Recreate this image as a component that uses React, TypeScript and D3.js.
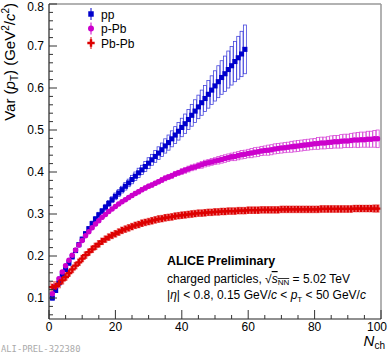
import { scaleLinear, range, symbol, symbolSquare, symbolCircle, symbolCross } from 'd3';

// Var(pT) vs Nch, one value per integer Nch
const ppVar = [
  0.1, 0.118, 0.136, 0.153, 0.168, 0.183, 0.198, 0.213, 0.227, 0.24,
  0.253, 0.265, 0.277, 0.288, 0.298, 0.307, 0.316, 0.325, 0.334, 0.342,
  0.35, 0.358, 0.366, 0.374, 0.382, 0.39, 0.398, 0.405, 0.413, 0.421,
  0.429, 0.437, 0.445, 0.453, 0.462, 0.47, 0.479, 0.488, 0.497, 0.506,
  0.515, 0.525, 0.535, 0.545, 0.555, 0.565, 0.575, 0.585, 0.595, 0.605,
  0.615, 0.625, 0.634, 0.644, 0.653, 0.663, 0.672, 0.681, 0.692,
];
const ppSys = [
  0.005, 0.005, 0.005, 0.005, 0.005, 0.005, 0.005, 0.005, 0.005, 0.005,
  0.005, 0.005, 0.006, 0.006, 0.006, 0.006, 0.007, 0.007, 0.007, 0.008,
  0.008, 0.008, 0.009, 0.009, 0.01, 0.01, 0.011, 0.011, 0.012, 0.013,
  0.013, 0.014, 0.015, 0.016, 0.017, 0.018, 0.019, 0.02, 0.021, 0.022,
  0.023, 0.024, 0.026, 0.027, 0.028, 0.03, 0.031, 0.033, 0.034, 0.036,
  0.038, 0.04, 0.042, 0.044, 0.046, 0.048, 0.051, 0.054, 0.058,
];
const pPbVar = [
  0.11, 0.128, 0.146, 0.162, 0.177, 0.19, 0.202, 0.214, 0.226, 0.237,
  0.248, 0.258, 0.267, 0.276, 0.284, 0.292, 0.299, 0.306, 0.312, 0.318,
  0.324, 0.329, 0.334, 0.339, 0.344, 0.349, 0.353, 0.358, 0.362, 0.366,
  0.369, 0.373, 0.377, 0.381, 0.385, 0.388, 0.391, 0.395, 0.398, 0.401,
  0.404, 0.407, 0.41, 0.412, 0.415, 0.417, 0.42, 0.422, 0.424, 0.426,
  0.428, 0.43, 0.432, 0.434, 0.436, 0.437, 0.439, 0.441, 0.442, 0.444,
  0.445, 0.447, 0.448, 0.45, 0.451, 0.452, 0.453, 0.455, 0.456, 0.457,
  0.458, 0.459, 0.46, 0.461, 0.462, 0.463, 0.464, 0.465, 0.466, 0.467,
  0.468, 0.469, 0.469, 0.47, 0.471, 0.472, 0.472, 0.473, 0.474, 0.474,
  0.475, 0.476, 0.476, 0.477, 0.477, 0.478, 0.478, 0.479, 0.479,
];
const pPbSys = [
  0.004, 0.004, 0.004, 0.004, 0.004, 0.004, 0.004, 0.004, 0.004, 0.004,
  0.004, 0.004, 0.004, 0.004, 0.004, 0.004, 0.004, 0.004, 0.004, 0.004,
  0.004, 0.004, 0.004, 0.004, 0.005, 0.005, 0.005, 0.005, 0.005, 0.005,
  0.005, 0.005, 0.005, 0.006, 0.006, 0.006, 0.006, 0.006, 0.006, 0.007,
  0.007, 0.007, 0.007, 0.007, 0.007, 0.008, 0.008, 0.008, 0.008, 0.008,
  0.009, 0.009, 0.009, 0.009, 0.009, 0.01, 0.01, 0.01, 0.01, 0.01,
  0.011, 0.011, 0.011, 0.011, 0.011, 0.012, 0.012, 0.012, 0.012, 0.012,
  0.012, 0.012, 0.013, 0.013, 0.013, 0.013, 0.013, 0.013, 0.013, 0.013,
  0.014, 0.014, 0.014, 0.014, 0.015, 0.015, 0.015, 0.016, 0.016, 0.016,
  0.017, 0.017, 0.018, 0.018, 0.018, 0.019, 0.019, 0.02, 0.021,
];
const PbPbVar = [
  0.126, 0.128, 0.134, 0.142, 0.15, 0.159, 0.168, 0.177, 0.185, 0.194,
  0.202, 0.209, 0.216, 0.223, 0.229, 0.235, 0.24, 0.245, 0.249, 0.253,
  0.257, 0.261, 0.264, 0.267, 0.27, 0.273, 0.275, 0.278, 0.28, 0.282,
  0.284, 0.286, 0.288, 0.289, 0.291, 0.292, 0.293, 0.295, 0.296, 0.297,
  0.298, 0.299, 0.3, 0.301, 0.302, 0.302, 0.303, 0.304, 0.304, 0.305,
  0.305, 0.306, 0.306, 0.307, 0.307, 0.307, 0.308, 0.308, 0.308, 0.309,
  0.309, 0.309, 0.309, 0.31, 0.31, 0.31, 0.31, 0.31, 0.31, 0.311,
  0.311, 0.311, 0.311, 0.311, 0.311, 0.311, 0.311, 0.311, 0.311, 0.311,
  0.311, 0.312, 0.312, 0.312, 0.312, 0.312, 0.312, 0.312, 0.312, 0.312,
  0.312, 0.313, 0.313, 0.313, 0.313, 0.313, 0.313, 0.313, 0.313,
];
const PbPbSys = [
  0.013, 0.011, 0.01, 0.009, 0.008, 0.008, 0.008, 0.008, 0.008, 0.008,
  0.008, 0.008, 0.008, 0.008, 0.008, 0.008, 0.008, 0.008, 0.008, 0.008,
  0.008, 0.008, 0.008, 0.008, 0.008, 0.008, 0.008, 0.008, 0.008, 0.008,
  0.008, 0.008, 0.008, 0.008, 0.008, 0.008, 0.008, 0.008, 0.008, 0.008,
  0.008, 0.008, 0.008, 0.008, 0.008, 0.008, 0.008, 0.008, 0.008, 0.008,
  0.008, 0.008, 0.008, 0.008, 0.008, 0.008, 0.008, 0.008, 0.008, 0.008,
  0.008, 0.008, 0.008, 0.008, 0.008, 0.008, 0.008, 0.008, 0.008, 0.008,
  0.008, 0.008, 0.008, 0.008, 0.008, 0.008, 0.008, 0.008, 0.008, 0.008,
  0.008, 0.008, 0.008, 0.008, 0.008, 0.008, 0.008, 0.008, 0.008, 0.008,
  0.008, 0.008, 0.008, 0.008, 0.008, 0.008, 0.008, 0.009, 0.009,
];

const xTicks = [0, 20, 40, 60, 80, 100];
const yTicks = [0.1, 0.2, 0.3, 0.4, 0.5, 0.6, 0.7, 0.8];
const legendLabels = ['pp', 'p-Pb', 'Pb-Pb'];

const W = 388;
const H = 354;
const frame = { left: 49, right: 381, top: 4, bottom: 319 };
const font = 'Liberation Sans, Arial, Helvetica, sans-serif';

const series = [
  { name: 'pp', values: ppVar, sys: ppSys, color: '#0000cc', box: '#4444dd', shape: symbolSquare, size: 26 },
  { name: 'p-Pb', values: pPbVar, sys: pPbSys, color: '#cc00cc', box: '#d84cd8', shape: symbolCircle, size: 24 },
  { name: 'Pb-Pb', values: PbPbVar, sys: PbPbSys, color: '#dd0000', box: '#ea6a6a', shape: symbolCross, size: 26 },
];

export default function App() {
  const x = scaleLinear().domain([0, 100]).range([frame.left, frame.right]);
  const y = scaleLinear().domain([0.05, 0.8]).range([frame.bottom, frame.top]);

  const xMinor = range(0, 101, 5);
  const yMinor = range(6, 81, 2).map((v) => v / 100);

  return (
    <svg width={W} height={H} style={{ position: 'absolute', left: 0, top: 0, background: '#fff' }} fontFamily={font}>
      {/* systematic boxes */}
      {series.map((s) => (
        <g key={s.name + '-sys'} fill="none" stroke={s.box} strokeWidth={0.8}>
          {s.values.map((v, i) => {
            const n = i + 1;
            const x0 = x(n - 0.45);
            const x1 = x(n + 0.45);
            return (
              <rect key={i} x={x0} y={y(v + s.sys[i])} width={x1 - x0} height={y(v - s.sys[i]) - y(v + s.sys[i])} />
            );
          })}
        </g>
      ))}
      {/* markers */}
      {series.map((s) => {
        const path = symbol(s.shape, s.size)() as string;
        return (
          <g key={s.name} fill={s.color}>
            {s.values.map((v, i) => (
              <path key={i} d={path} transform={`translate(${x(i + 1)},${y(v)})`} />
            ))}
          </g>
        );
      })}

      {/* frame */}
      <line x1={frame.left} x2={frame.right} y1={frame.top} y2={frame.top} stroke="#999" strokeWidth={1.5} />
      <line x1={frame.right} x2={frame.right} y1={frame.top} y2={frame.bottom} stroke="#999" strokeWidth={1.5} />
      <line x1={frame.left} x2={frame.left} y1={frame.top} y2={frame.bottom} stroke="#222" strokeWidth={1.2} />
      <line x1={frame.left} x2={frame.right} y1={frame.bottom} y2={frame.bottom} stroke="#222" strokeWidth={1.2} />

      {/* y axis ticks */}
      {yMinor.map((v) => {
        const major = yTicks.some((t) => Math.abs(t - v) < 1e-6);
        return (
          <line key={v} x1={frame.left} x2={frame.left + (major ? 8 : 4)} y1={y(v)} y2={y(v)} stroke="#333" strokeWidth={1} />
        );
      })}
      {yTicks.map((t) => (
        <text key={t} x={44} y={Math.max(y(t) + 4.2, 10.5)} textAnchor="end" fontSize={12}>
          {t.toFixed(1)}
        </text>
      ))}

      {/* x axis ticks */}
      {xMinor.map((v) => {
        const major = v % 20 === 0;
        return (
          <line key={v} x1={x(v)} x2={x(v)} y1={frame.bottom} y2={frame.bottom - (major ? 9 : 4)} stroke="#333" strokeWidth={1} />
        );
      })}
      {xTicks.map((t) => (
        <text
          key={t}
          x={t === 100 ? 387 : x(t)}
          y={331}
          textAnchor={t === 100 ? 'end' : 'middle'}
          fontSize={12}
        >
          {t}
        </text>
      ))}

      {/* axis titles */}
      <text transform="translate(15,3) rotate(-90)" textAnchor="end" fontSize={15}>
        Var (<tspan fontStyle="italic">p</tspan>
        <tspan fontSize={10} dy={3}>T</tspan>
        <tspan dy={-3}>) (GeV</tspan>
        <tspan fontSize={10} dy={-6}>2</tspan>
        <tspan dy={6}>/</tspan>
        <tspan fontStyle="italic">c</tspan>
        <tspan fontSize={10} dy={-6}>2</tspan>
        <tspan dy={6}>)</tspan>
      </text>
      <text x={385} y={346} textAnchor="end" fontSize={15}>
        <tspan fontStyle="italic">N</tspan>
        <tspan fontSize={10} dy={3}>ch</tspan>
      </text>

      {/* legend */}
      {series.map((s, i) => {
        const cy = 14 + i * 14.5;
        return (
          <g key={s.name + '-leg'}>
            <line x1={91} x2={91} y1={cy - 6} y2={cy + 6} stroke={s.color} strokeWidth={1} />
            <path d={symbol(s.shape, s.size + 4)() as string} transform={`translate(91,${cy})`} fill={s.color} />
            <text x={101} y={cy + 4.5} fontSize={12}>
              {legendLabels[i]}
            </text>
          </g>
        );
      })}

      {/* annotation */}
      <text x={167} y={265} fontSize={12.4} fontWeight="bold">
        ALICE Preliminary
      </text>
      <text x={167} y={283} fontSize={12}>
        charged particles, √
        <tspan fontStyle="italic" textDecoration="overline">s</tspan>
        <tspan fontSize={8} dy={2} textDecoration="overline">NN</tspan>
        <tspan dy={-2}> = 5.02 TeV</tspan>
      </text>
      <text x={167} y={299} fontSize={12}>
        |<tspan fontStyle="italic">η</tspan>| &lt; 0.8, 0.15 GeV/<tspan fontStyle="italic">c</tspan> &lt;{' '}
        <tspan fontStyle="italic">p</tspan>
        <tspan fontSize={8} dy={3}>T</tspan>
        <tspan dy={-3}> &lt; 50 GeV/</tspan>
        <tspan fontStyle="italic">c</tspan>
      </text>

      <text x={1} y={352} fontSize={8.8} fill="#aaa" fontFamily="DejaVu Sans Mono, monospace">
        ALI-PREL-322380
      </text>
    </svg>
  );
}
